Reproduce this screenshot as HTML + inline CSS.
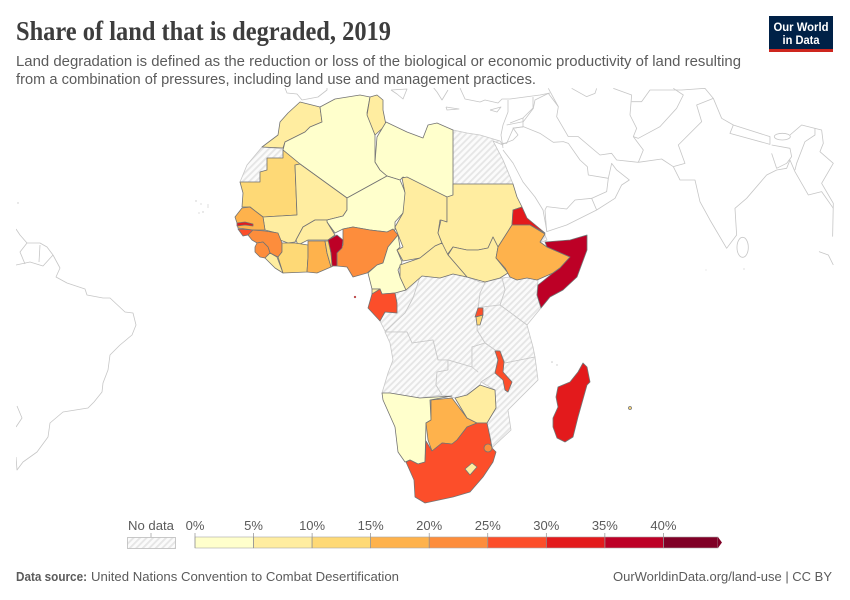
<!DOCTYPE html>
<html lang="en">
<head>
<meta charset="utf-8">
<title>Share of land that is degraded, 2019</title>
<style>
html,body{margin:0;padding:0;background:#fff;}
svg{display:block;}
text{font-family:"Liberation Sans",sans-serif;}
.other polyline,.other polygon,.other ellipse{fill:none;stroke:#c6c6c6;stroke-width:.8;vector-effect:non-scaling-stroke;stroke-linejoin:round;}
.nodata polygon{fill:url(#hatch);stroke:#c8c8c8;stroke-width:.8;stroke-linejoin:round;}
.data polygon,.data circle{stroke:#737373;stroke-width:.8;stroke-linejoin:round;}
</style>
</head>
<body>
<svg width="850" height="600" viewBox="0 0 850 600" xmlns="http://www.w3.org/2000/svg">
<defs>
<pattern id="hatch" patternUnits="userSpaceOnUse" width="4.6" height="4.6" patternTransform="rotate(45)">
<rect width="4.6" height="4.6" fill="#fbfbfb"/>
<rect width="1.9" height="4.6" fill="#e6e6e6"/>
</pattern>
<clipPath id="map-clip"><rect x="16" y="88" width="818" height="420"/></clipPath>
</defs>
<rect width="850" height="600" fill="#fff"/>

<text x="16" y="40" font-size="27" font-weight="bold" textLength="375" lengthAdjust="spacingAndGlyphs" fill="#3d3d3d" style="font-family:'Liberation Serif',serif">Share of land that is degraded, 2019</text>
<text x="16" y="66" font-size="14.5" textLength="725" lengthAdjust="spacingAndGlyphs" fill="#5b5b5b">Land degradation is defined as the reduction or loss of the biological or economic productivity of land resulting</text>
<text x="16" y="84" font-size="14.5" textLength="520" lengthAdjust="spacingAndGlyphs" fill="#5b5b5b">from a combination of pressures, including land use and management practices.</text>

<g>
<rect x="769" y="16" width="64" height="36" fill="#002147"/>
<rect x="769" y="49" width="64" height="3" fill="#ce261e"/>
<text x="801" y="31" text-anchor="middle" font-size="12" font-weight="bold" fill="#fff" textLength="55" lengthAdjust="spacingAndGlyphs">Our World</text>
<text x="801" y="44" text-anchor="middle" font-size="12" font-weight="bold" fill="#fff" textLength="37" lengthAdjust="spacingAndGlyphs">in Data</text>
</g>

<g clip-path="url(#map-clip)">
<g class="other">
  <!-- Americas -->
  <polyline points="16,229 20,235 27,243 40,243 47,247 53,255 60,268 56,277 67,283 85,289 87,295 103,298 110,298 125,312 133,313 136,325 132,335 120,345 110,355 108,370 103,383 102,392 94,402 88,408 63,412 50,423 48,437 37,452 23,462 17,470 16,457"/>
  <polyline points="27,243 20,252 25,264"/>
  <polyline points="40,245 39,262"/>
  <polyline points="53,255 43,266 30,262 16,265"/>
  <polyline points="17,406 22,418 16,427"/>
  <!-- Europe / Mediterranean -->
  <polyline points="285,88 287,93 297,94 302,100 318,97 327,90 327,87"/>
  <polyline points="391,90 407,89 403,99 397,94 391,90"/>
  <polyline points="433,87 437,92 442,100 448,90"/>
  <polyline points="446,107 459,109 447,110 446,107"/>
  <polyline points="460,88 465,99 480,102 485,100 498,103 502,99 510,99 540,95 550,93"/>
  <polyline points="490,110 501,107 497,112 490,110"/>
  <polyline points="508,100 508,112 503,125 501,135 503,148"/>
  <polyline points="533,97 533,108 523,118 510,123"/>
  <polyline points="523,118 523,127 513,128 518,135 513,140 503,144"/>
  <polyline points="503,150 513,163 523,182 535,197 543,210 547,232"/>
  <polyline points="490,142 494,148 498,152"/>
  <polyline points="493,141 503,160 513,184"/>
  <!-- Asia: coordinates of the 3x crop, scaled down -->
  <g transform="translate(500,85) scale(.3333)">
    <polyline points="135,375 140,440 200,420 290,375 345,340 365,300 388,285 350,255 335,235 325,280 320,320 275,340 225,345 200,372 140,365 135,375"/>
    <polyline points="275,340 290,375"/>
    <polyline points="325,280 265,270 262,245 240,225 205,175 190,170 160,172 120,145 70,125 40,130 20,175 5,175"/>
    <polyline points="20,120 70,110 100,70 105,45 145,25 175,65 170,95 205,155"/>
    <polyline points="205,155 235,155 300,210 335,205 350,225 415,232"/>
    <polyline points="415,232 430,195 400,155 410,130 390,90 395,30 340,10"/>
    <polyline points="145,10 175,65"/>
    <polyline points="215,10 260,35 285,25 290,10"/>
    <polyline points="400,155 415,160 480,125 530,70 550,30 520,10"/>
    <polyline points="395,50 425,50 450,15 545,15 615,10 640,40"/>
    <polyline points="415,232 485,222 520,245"/>
    <polyline points="520,245 555,235 535,180 605,110 590,60 640,40 665,100 700,120"/>
    <polyline points="520,245 540,285 585,285 600,350 630,405 680,490 710,450 705,370 740,340 800,270 830,255 860,250 870,225 885,260 925,330 965,320 1000,370"/>
    <polygon points="700,120 690,145 810,178 810,155"/>
    <ellipse cx="847" cy="155" rx="24" ry="10"/>
    <polyline points="870,150 905,120 945,130 945,150 915,170 890,235 885,255"/>
    <polyline points="815,180 870,190 875,215 860,235 830,250 815,205"/>
    <polyline points="945,130 965,135 970,175 960,200 1000,235 965,295 1000,355 998,455"/>
    <ellipse cx="728" cy="487" rx="17" ry="30"/>
    <polyline points="957,500 985,510 1000,540"/>
  </g>
</g>

<g class="nodata">
  <polygon points="262,147 283,149 283,158 267,158 267,170 260,172 260,182 240,182 247,165"/>
  <polygon points="453,130 467,133 480,135 490,138 500,141 503,145 493,141 503,160 513,184 453,184"/>
  <polygon points="540,240 545,235 547,240 542,242"/>
  <polygon points="502,278 505,290 500,305 527,325 541,308 537,295 538,280 527,278 517,280 510,277"/>
  <polygon points="485,282 502,278 505,290 500,305 483,307 478,308 480,293"/>
  <polygon points="483,307 500,305 527,325 533,347 535,357 505,363 500,351 495,350 485,343 477,330 478,308"/>
  <polygon points="420,277 406,290 395,293 397,303 397,313 385,312 380,321 385,331 390,327 405,313 413,298"/>
  <polygon points="420,277 422,276 440,278 453,274 467,277 480,282 485,283 480,293 478,308 477,330 485,343 472,347 472,362 478,372 472,367 448,360 438,360 433,340 412,343 407,332 385,332 390,327 405,313 413,298"/>
  <polygon points="385,332 407,332 412,343 433,340 438,360 448,360 448,370 437,372 436,385 442,395 420,398 390,393 382,393 388,373 393,360 390,343"/>
  <polygon points="437,372 448,370 448,360 472,367 478,372 472,367 472,347 485,343 495,350 498,358 495,373 481,382 480,385 467,395 455,398 442,395 436,385"/>
  <polygon points="505,363 535,357 538,380 508,410 511,430 495,445 492,448 490,437 487,423 496,408 495,390 481,382 495,373 503,380 505,390 508,392 512,382 503,372 504,362"/>
</g>

<g class="data">
  <polygon data-country="Morocco" points="300,102 320,107 322,122 310,127 305,132 285,142 283,148 262,147 278,135 280,122 288,113"/>
  <polygon data-country="Algeria" points="320,107 335,99 360,95 370,97 367,113 375,135 375,162 380,170 387,176 347,198 300,164 283,150 285,142 305,132 310,127 322,122"/>
  <polygon data-country="Tunisia" points="370,97 377,95 383,100 383,110 386,125 375,135 367,115"/>
  <polygon data-country="Libya" points="386,122 407,132 423,138 428,125 437,123 453,130 453,196 447,197 403,177 400,180 387,176 380,170 375,162 377,137"/>
  <polygon data-country="Mauritania" points="283,150 300,164 295,165 297,215 263,217 250,207 242,207 243,193 240,182 260,182 260,172 267,170 267,158 283,158"/>
  <polygon data-country="Mali" points="295,165 300,164 347,198 347,210 343,216 327,220 315,220 303,227 295,242 288,243 280,240 277,233 265,230 263,217 297,215"/>
  <polygon data-country="Niger" points="347,198 387,176 400,180 403,187 406,195 403,213 395,222 395,230 387,232 370,230 353,227 343,229 335,233 327,222 327,220 343,216 347,210"/>
  <polygon data-country="Burkina Faso" points="327,220 315,220 303,227 296,240 298,245 308,240 328,240 335,235 327,222"/>
  <polygon data-country="Senegal" points="235,217 242,208 250,207 263,217 265,230 253,230 238,228 237,223"/>
  <polygon data-country="Gambia" points="237,223 245,222 253,224 253,226 245,225 237,226"/>
  <polygon data-country="Guinea-Bissau" points="238,229 253,230 248,235 243,236"/>
  <polygon data-country="Guinea" points="253,230 265,231 278,233 282,243 282,252 278,257 270,253 268,247 263,242 257,243 252,240 248,235"/>
  <polygon data-country="Sierra Leone" points="257,243 263,242 268,247 270,253 265,258 260,257 255,252 255,247"/>
  <polygon data-country="Liberia" points="265,258 270,253 277,257 283,273 275,268"/>
  <polygon data-country="Cote d'Ivoire" points="282,243 295,243 308,245 308,257 307,272 283,273 278,257 282,252"/>
  <polygon data-country="Ghana" points="308,241 325,241 327,253 331,267 317,273 307,272 308,257"/>
  <polygon data-country="Togo" points="325,241 329,241 333,266 331,267 327,253"/>
  <polygon data-country="Nigeria" points="343,229 353,227 370,230 387,232 393,229 398,235 388,247 383,263 377,265 367,273 353,277 347,267 337,266 337,253 343,245 343,237"/>
  <polygon data-country="Benin" points="328,240 337,235 343,240 342,248 337,253 337,266 332,266 331,253"/>
  <polygon data-country="Cameroon" points="398,235 400,247 397,250 402,262 398,270 400,277 406,290 395,293 382,294 380,289 372,289 368,273 377,265 383,263 388,247"/>
  <polygon data-country="Equatorial Guinea" points="372,289 380,289 380,294 372,294"/>
  <polygon data-country="Gabon" points="380,289 382,294 395,293 397,303 397,313 385,312 380,321 368,308 372,294"/>
  <polygon data-country="Chad" points="402,178 407,177 447,197 447,222 440,220 438,233 442,243 435,246 420,258 403,261 397,250 403,247 395,227 403,213 405,193"/>
  <polygon data-country="Sudan" points="453,184 513,184 517,197 522,207 513,210 512,225 498,247 493,237 488,248 478,250 467,250 453,247 447,255 442,243 438,233 441,220 447,222 447,197 453,195"/>
  <polygon data-country="South Sudan" points="453,247 467,250 478,250 488,248 493,237 498,247 496,258 508,273 500,278 485,282 467,277 448,255"/>
  <polygon data-country="Central African Republic" points="442,243 448,255 467,277 453,274 440,278 422,276 406,290 400,277 400,265 420,258 435,246"/>
  <polygon data-country="Eritrea" points="522,207 527,218 545,233 530,225 512,225 513,210"/>
  <polygon data-country="Ethiopia" points="512,225 530,225 545,234 540,242 547,247 570,257 560,268 553,273 537,280 527,278 517,280 510,277 505,268 496,258 498,247"/>
  <polygon data-country="Somalia" points="545,242 570,240 587,235 587,250 577,277 563,290 550,297 541,308 537,295 538,285 553,273 560,268 570,257 547,247"/>
  <polygon data-country="Rwanda" points="478,308 483,308 483,315 475,317"/>
  <polygon data-country="Burundi" points="476,317 483,315 480,325 477,325"/>
  <polygon data-country="Malawi" points="495,351 500,351 504,362 503,372 512,382 508,392 505,390 503,380 495,373 498,360"/>
  <polygon data-country="Namibia" points="382,393 390,393 420,398 452,396 430,400 431,420 426,423 425,462 418,464 410,460 405,462 398,452 395,427 383,400"/>
  <polygon data-country="Botswana" points="431,400 452,398 467,418 477,423 467,427 457,440 452,444 442,443 432,451 428,440 426,423 431,420"/>
  <polygon data-country="Zimbabwe" points="455,398 467,395 480,385 495,390 496,408 487,423 477,423 467,418"/>
  <polygon data-country="South Africa" points="406,462 410,460 418,464 425,462 426,441 432,451 442,443 452,444 457,440 467,427 477,423 487,423 490,437 492,448 496,452 493,462 483,477 470,492 453,497 425,503 415,497 414,480"/>
  <circle data-country="Eswatini" cx="488" cy="448" r="4"/>
  <polygon data-country="Lesotho" points="465,469 472,463 477,467 470,475"/>
  <polygon data-country="Madagascar" points="583,363 587,367 590,382 587,385 578,417 573,437 565,442 557,438 553,427 553,418 558,407 556,397 558,387 570,382 578,372"/>
  <circle data-country="Mauritius" cx="630" cy="408" r="1.5"/>
  <circle data-country="Sao Tome and Principe" cx="355" cy="297" r="1" style="stroke-width:.3"/>
</g>

<g fill="#c8c8c8">
  <circle cx="18" cy="203" r=".7"/>
  <circle cx="196" cy="201" r=".7"/>
  <circle cx="201" cy="204" r=".6"/>
  <circle cx="208" cy="205" r=".6"/>
  <circle cx="208" cy="207" r=".6"/>
  <circle cx="203" cy="212" r=".7"/>
  <circle cx="199" cy="213" r=".6"/>
  <circle cx="552" cy="362" r=".8"/>
  <circle cx="557" cy="365" r=".7"/>
  <circle cx="744" cy="269" r=".6"/>
  <circle cx="706" cy="270" r=".5"/>
</g>
</g>

<g>
  <text x="151" y="530" text-anchor="middle" font-size="13" fill="#5b5b5b" textLength="46" lengthAdjust="spacingAndGlyphs">No data</text>
  <line x1="151" y1="533" x2="151" y2="537" stroke="#999" stroke-width=".7"/>
  <rect x="127.500" y="537.500" width="48" height="11" fill="url(#hatch)" stroke="#bbb" stroke-width=".8"/>
  <g id="legend-bins"></g>
</g>

<text x="16" y="581" font-size="13" font-weight="bold" fill="#5b5b5b" textLength="71" lengthAdjust="spacingAndGlyphs">Data source:</text>
<text x="91" y="581" font-size="13" fill="#5b5b5b" textLength="308" lengthAdjust="spacingAndGlyphs">United Nations Convention to Combat Desertification</text>
<text x="613" y="581" font-size="13" fill="#5b5b5b" textLength="219" lengthAdjust="spacingAndGlyphs">OurWorldinData.org/land-use | CC BY</text>

<script>
var countryNames = ["Morocco","Algeria","Tunisia","Libya","Mauritania","Mali","Niger","Burkina Faso","Senegal","Gambia","Guinea-Bissau","Guinea","Sierra Leone","Liberia","Cote d'Ivoire","Ghana","Togo","Benin","Nigeria","Cameroon","Equatorial Guinea","Gabon","Chad","Sudan","South Sudan","Central African Republic","Eritrea","Ethiopia","Somalia","Rwanda","Burundi","Malawi","Namibia","Botswana","Zimbabwe","South Africa","Eswatini","Lesotho","Madagascar","Mauritius","Sao Tome and Principe"];
var degradedShare = [7,2,8,2,12,7,2,7,17,32,27,22,22,7,12,17,12,37,22,3,7,27,7,7,7,7,32,17,37,27,12,27,2,17,7,27,22,7,32,12,32];
var binEdges = [0,5,10,15,20,25,30,35,40,45];
var binColors = ["#ffffcc","#ffeda0","#fed976","#feb24c","#fd8d3c","#fc4e2a","#e31a1c","#bd0026","#800026"];
var tickLabels = ["0%","5%","10%","15%","20%","25%","30%","35%","40%"];

function colorFor(value) {
  for (var i = 0; i < binColors.length; i++) {
    if (value < binEdges[i + 1]) return binColors[i];
  }
  return binColors[binColors.length - 1];
}
function legendX(value) {
  return 195 + value * (663.4 - 195) / 40;
}
var NS = "http://www.w3.org/2000/svg";
countryNames.forEach(function (name, i) {
  var node = document.querySelector('[data-country="' + name + '"]');
  if (node) node.setAttribute("fill", colorFor(degradedShare[i]));
});
var legendGroup = document.getElementById("legend-bins");
binColors.forEach(function (color, i) {
  var x0 = legendX(binEdges[i]);
  var x1 = legendX(binEdges[i + 1]) - (i === binColors.length - 1 ? 4 : 0);
  var rect = document.createElementNS(NS, "rect");
  rect.setAttribute("x", x0);
  rect.setAttribute("y", 537);
  rect.setAttribute("width", x1 - x0);
  rect.setAttribute("height", 11);
  rect.setAttribute("fill", color);
  rect.setAttribute("stroke", "#a8a8a8");
  rect.setAttribute("stroke-width", "0.6");
  
  
  legendGroup.appendChild(rect);
  if (i === binColors.length - 1) {
    var tip = document.createElementNS(NS, "polygon");
    tip.setAttribute("points", x1 + ",537 " + (x1 + 4) + ",542.5 " + x1 + ",548");
    tip.setAttribute("fill", color);
    
    
    legendGroup.appendChild(tip);
  }
});
tickLabels.forEach(function (label, i) {
  var x = legendX(binEdges[i]);
  var tick = document.createElementNS(NS, "line");
  tick.setAttribute("x1", x);
  tick.setAttribute("x2", x);
  tick.setAttribute("y1", 533);
  tick.setAttribute("y2", 548);
  tick.setAttribute("stroke", "#8f8f8f");
  tick.setAttribute("stroke-width", "0.7");
  
  
  legendGroup.appendChild(tick);
  var text = document.createElementNS(NS, "text");
  text.setAttribute("x", x);
  text.setAttribute("y", 530);
  text.setAttribute("text-anchor", "middle");
  text.setAttribute("font-size", "13");
  text.setAttribute("fill", "#5b5b5b");
  text.textContent = label;
  
  
  legendGroup.appendChild(text);
});
</script>
</svg>
</body>
</html>
